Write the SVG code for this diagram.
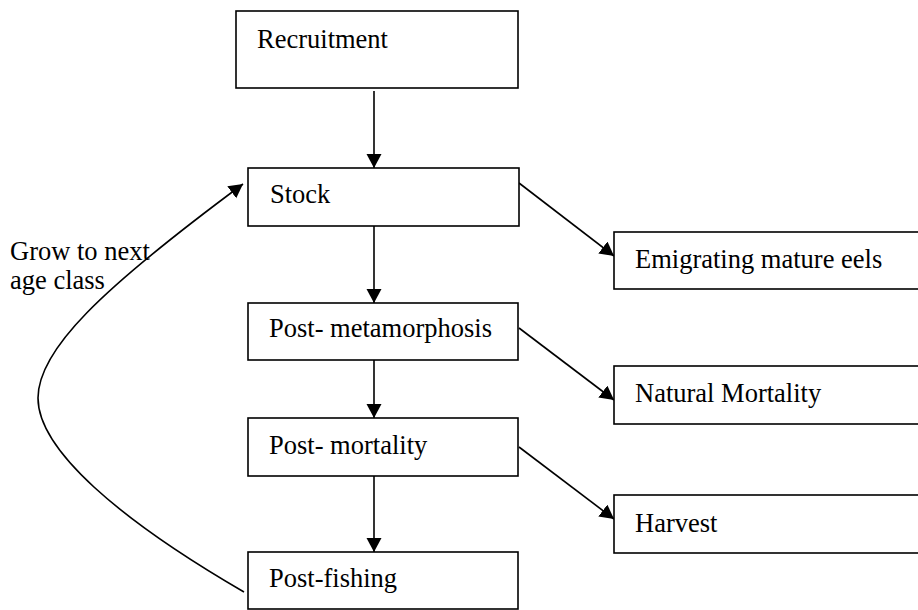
<svg xmlns="http://www.w3.org/2000/svg" width="918" height="610" viewBox="0 0 918 610">
<style>
.box{fill:#fff;stroke:#000;stroke-width:1.6}
.lbl{font-family:"Liberation Serif","Times New Roman",serif;font-size:26.5px;fill:#000}
.con{fill:none;stroke:#000;stroke-width:1.6}
</style>
<defs>
<marker id="ah" markerUnits="userSpaceOnUse" markerWidth="16" markerHeight="16" refX="14" refY="7.5" orient="auto">
<path d="M0,0 L14,7.5 L0,15 z" fill="#000"/>
</marker>
</defs>
<rect width="918" height="610" fill="#fff"/>
<g id="connectors">
<line class="con" x1="374" y1="91" x2="374" y2="168" marker-end="url(#ah)"/>
<line class="con" x1="374" y1="226" x2="374" y2="303" marker-end="url(#ah)"/>
<line class="con" x1="374" y1="360" x2="374" y2="418" marker-end="url(#ah)"/>
<line class="con" x1="374" y1="476" x2="374" y2="552" marker-end="url(#ah)"/>
<line class="con" x1="519" y1="183" x2="614" y2="256" marker-end="url(#ah)"/>
<line class="con" x1="519" y1="328" x2="614" y2="400" marker-end="url(#ah)"/>
<line class="con" x1="519" y1="447" x2="614" y2="519" marker-end="url(#ah)"/>
<path class="con" d="M244,592 C120,520 38,450 38,398 C38,350 100,290 243,184" marker-end="url(#ah)"/>
</g>
<g id="recruitment"><rect class="box" x="236" y="11" width="282" height="77"/><text class="lbl" x="257" y="48">Recruitment</text></g>
<g id="stock"><rect class="box" x="248" y="168" width="271" height="58"/><text class="lbl" x="270" y="203">Stock</text></g>
<g id="post-metamorphosis"><rect class="box" x="248" y="303" width="270" height="57"/><text class="lbl" x="269" y="337">Post- metamorphosis</text></g>
<g id="post-mortality"><rect class="box" x="248" y="418" width="270" height="58"/><text class="lbl" x="269" y="454">Post- mortality</text></g>
<g id="post-fishing"><rect class="box" x="248" y="552" width="270" height="57"/><text class="lbl" x="269" y="587">Post-fishing</text></g>
<g id="emigrating"><rect class="box" x="614" y="232" width="312" height="57"/><text class="lbl" x="635" y="268">Emigrating mature eels</text></g>
<g id="natural-mortality"><rect class="box" x="614" y="366" width="312" height="58"/><text class="lbl" x="635" y="402">Natural Mortality</text></g>
<g id="harvest"><rect class="box" x="614" y="495" width="312" height="58"/><text class="lbl" x="635" y="532">Harvest</text></g>
<g id="grow-label"><text class="lbl" x="10" y="260">Grow to next</text><text class="lbl" x="10" y="289">age class</text></g>
</svg>
